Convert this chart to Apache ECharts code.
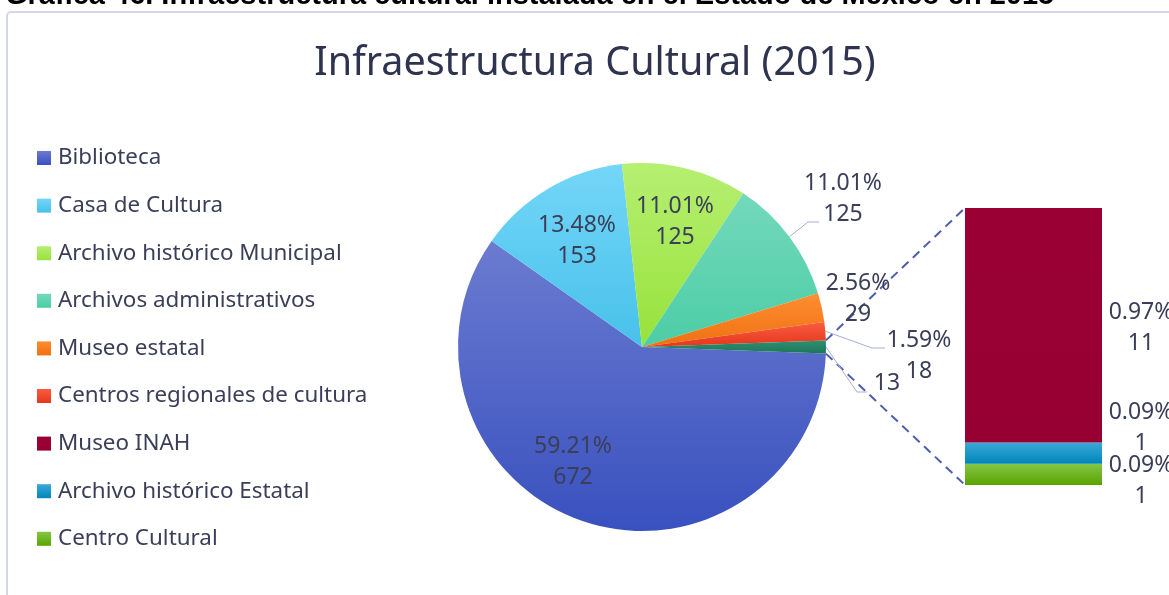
<!DOCTYPE html>
<html>
<head>
<meta charset="utf-8">
<script src="https://cdn.jsdelivr.net/npm/echarts@6/dist/echarts.min.js"></script>
<style>
  html, body { margin: 0; padding: 0; background: #ffffff; }
  #chart { width: 1169px; height: 595px; }
</style>
</head>
<body>
<div id="chart"></div>
<script>
// Pie slices (the last pie slice groups the three items shown in the bar)
const pieCategories = ['Biblioteca', 'Casa de Cultura', 'Archivo histórico Municipal',
  'Archivos administrativos', 'Museo estatal', 'Centros regionales de cultura'];
const pieValues = [672, 153, 125, 125, 29, 18];
const otherName = 'Otro';

// Items broken out in the stacked bar (top to bottom)
const barCategories = ['Museo INAH', 'Archivo histórico Estatal', 'Centro Cultural'];
const barValues = [11, 1, 1];

const chartTitle = 'Infraestructura Cultural (2015)';
const headerText = 'Gráfica 46. Infraestructura cultural instalada en el Estado de México en 2015';

const FONT = '"Noto Sans", "Open Sans", sans-serif';
const TEXT = '#3b3e58';

const otherValue = barValues.reduce((a, b) => a + b, 0);
const total = pieValues.reduce((a, b) => a + b, 0) + otherValue;
const pct = v => (v / total * 100).toFixed(2) + '%';

// pie geometry
const pieCenter = [642, 347];
const pieRadius = 184;
const halfOtherDeg = otherValue / total * 180;   // grouped slice is centred on 3 o'clock
const startAngle = 360 - halfOtherDeg;

// bar geometry
const barBox = { left: 965, top: 208, width: 137, height: 277 };

function grad(top, bottom) {
  return { type: 'linear', x: 0, y: 0, x2: 0, y2: 1,
    colorStops: [{ offset: 0, color: top }, { offset: 1, color: bottom }] };
}
const pieColors = [
  ['#6b7bd0', '#3951bf'],
  ['#74d6f8', '#47c1ea'],
  ['#b6ef72', '#97e23a'],
  ['#74d9bc', '#4ccda5'],
  ['#ff8e33', '#ef7010'],
  ['#f85c42', '#e6361a']
];
const otherColors = ['#2f9072', '#1c7657'];
const barColors = [['#9a0034', '#970032'], ['#3aa9d8', '#0086b9'], ['#86c646', '#58a300']];

// label block centres for each pie slice
const pieLabelSpots = [[573, 462], [577, 241], [675, 222], [843, 199], [858, 299], [919, 356], [887, 383]];
// leader line bend and end points for slices that use one
const leaderElbows = {
  3: [[808, 222], [819, 222]],
  5: [[872, 348], [885, 348]],
  6: [[857, 392], [867, 392]]
};
// vertical nudge of the bar labels (top to bottom)
const barLabelShift = [3, -25, 7];

const allPieValues = pieValues.concat([otherValue]);
function sliceEdgePoint(i) {
  let before = 0;
  for (let k = 0; k < i; k++) before += allPieValues[k];
  const a0 = startAngle - before / total * 360;
  const a1 = a0 - allPieValues[i] / total * 360;
  const mid = (a0 + a1) / 2 * Math.PI / 180;
  return [pieCenter[0] + pieRadius * Math.cos(mid), pieCenter[1] - pieRadius * Math.sin(mid)];
}

const pieData = pieCategories.map((name, i) => ({
  name: name,
  value: pieValues[i],
  itemStyle: { color: grad(pieColors[i][0], pieColors[i][1]) },
  labelLine: { show: !!leaderElbows[i] }
}));
pieData.push({
  name: otherName,
  value: otherValue,
  itemStyle: { color: grad(otherColors[0], otherColors[1]) },
  labelLine: { show: true }
});

// stacked bar series, bottom segment first
const barSeries = [];
for (let j = barCategories.length - 1; j >= 0; j--) {
  barSeries.push({
    name: barCategories[j],
    type: 'bar',
    stack: 'otro',
    barWidth: '100%',
    xAxisIndex: 0,
    yAxisIndex: 0,
    data: [barValues[j]],
    itemStyle: { color: grad(barColors[j][0], barColors[j][1]) },
    label: {
      show: true,
      position: 'right',
      distance: 39,
      align: 'center',
      offset: [0, barLabelShift[j]],
      formatter: p => pct(p.value) + '\n' + p.value,
      fontFamily: FONT,
      fontSize: 23,
      lineHeight: 31,
      color: TEXT
    },
    emphasis: { disabled: true }
  });
}

const chart = echarts.init(document.getElementById('chart'), null, { renderer: 'canvas' });

chart.setOption({
  animation: false,
  backgroundColor: '#ffffff',
  legend: {
    orient: 'vertical',
    left: 37,
    top: 146,
    padding: 0,
    itemWidth: 14,
    itemHeight: 14,
    itemGap: 23.6,
    icon: 'rect',
    selectedMode: false,
    data: pieCategories.concat(barCategories),
    textStyle: { fontFamily: FONT, fontSize: 22.4, lineHeight: 24, color: TEXT, padding: [0, 0, 0, 2] }
  },
  grid: { left: barBox.left, top: barBox.top, width: barBox.width, height: barBox.height },
  xAxis: { type: 'category', data: [otherName], show: false },
  yAxis: { type: 'value', min: 0, max: otherValue, show: false },
  series: [{
    type: 'pie',
    center: pieCenter,
    radius: pieRadius,
    startAngle: startAngle,
    clockwise: true,
    avoidLabelOverlap: false,
    emphasis: { disabled: true },
    data: pieData,
    label: {
      show: true,
      position: 'outside',
      formatter: p => p.name === otherName ? String(p.value) : pct(p.value) + '\n' + p.value,
      fontFamily: FONT,
      fontSize: 23,
      lineHeight: 31,
      color: TEXT
    },
    labelLine: { show: true, lineStyle: { color: '#a8aed4', width: 1 } },
    labelLayout: function (params) {
      const i = params.dataIndex;
      const spot = pieLabelSpots[i];
      const out = { x: spot[0], y: spot[1], align: 'center', verticalAlign: 'middle' };
      if (leaderElbows[i]) {
        out.labelLinePoints = [sliceEdgePoint(i), leaderElbows[i][0], leaderElbows[i][1]];
      }
      return out;
    }
  }].concat(barSeries)
});

// dashed connectors between the grouped slice and the bar
const h = halfOtherDeg * Math.PI / 180;
const pieEdgeX = pieCenter[0] + pieRadius * Math.cos(h);
const pieUpY = pieCenter[1] - pieRadius * Math.sin(h);
const pieDownY = pieCenter[1] + pieRadius * Math.sin(h);
const barTopY = chart.convertToPixel({ yAxisIndex: 0 }, otherValue);
const barBottomY = chart.convertToPixel({ yAxisIndex: 0 }, 0);
const connectorStyle = { stroke: '#4e5eae', lineWidth: 2, lineDash: [9, 6] };

chart.setOption({
  graphic: [
    {
      type: 'text', x: 5, y: 10.5,
      style: { text: headerText, fontFamily: '"Liberation Sans", Arial, sans-serif', fontWeight: 'bold',
        fontSize: 29, fill: '#000000', verticalAlign: 'bottom' }
    },
    {
      type: 'rect', shape: { x: 7, y: 12, width: 1220, height: 640, r: 4 },
      style: { fill: 'none', stroke: '#d4d7ec', lineWidth: 2 }, silent: true
    },
    {
      type: 'text', x: 595, y: 64,
      style: { text: chartTitle, fontFamily: FONT, fontSize: 39.5, fill: '#2e3350',
        align: 'center', verticalAlign: 'middle' }
    },
    {
      type: 'line', shape: { x1: pieEdgeX, y1: pieUpY, x2: barBox.left, y2: barTopY },
      style: connectorStyle, silent: true
    },
    {
      type: 'line', shape: { x1: pieEdgeX, y1: pieDownY, x2: barBox.left, y2: barBottomY },
      style: connectorStyle, silent: true
    }
  ]
});
</script>
</body>
</html>
